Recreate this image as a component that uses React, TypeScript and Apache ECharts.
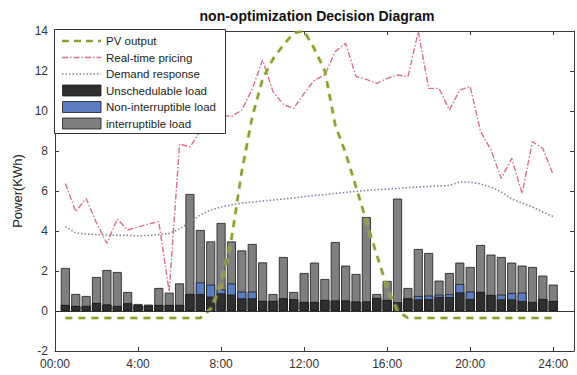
import React, { useEffect, useRef } from 'react';
import * as echarts from 'echarts';

// Half-hour time slots (hours)
const timeSlots = [
  0.5, 1, 1.5, 2, 2.5, 3, 3.5, 4, 4.5, 5, 5.5, 6,
  6.5, 7, 7.5, 8, 8.5, 9, 9.5, 10, 10.5, 11, 11.5, 12,
  12.5, 13, 13.5, 14, 14.5, 15, 15.5, 16, 16.5, 17, 17.5, 18,
  18.5, 19, 19.5, 20, 20.5, 21, 21.5, 22, 22.5, 23, 23.5, 24,
];

const unschedulableLoad = [
  0.3, 0.25, 0.25, 0.4, 0.32, 0.25, 0.38, 0.28, 0.26, 0.3, 0.3, 0.3,
  0.85, 0.85, 0.72, 0.88, 0.82, 0.63, 0.63, 0.5, 0.5, 0.63, 0.58, 0.45,
  0.45, 0.55, 0.52, 0.52, 0.47, 0.47, 0.65, 0.55, 0.43, 0.63, 0.58, 0.6,
  0.7, 0.7, 0.93, 0.6, 0.95, 0.8, 0.58, 0.58, 0.5, 0.45, 0.6, 0.5,
];

const nonInterruptibleLoad = [
  0, 0, 0, 0, 0, 0, 0, 0, 0, 0, 0, 0,
  0, 0.58, 0.6, 0.2, 0.56, 0.34, 0.34, 0, 0, 0, 0, 0,
  0, 0, 0, 0, 0, 0, 0, 0, 0, 0, 0.17, 0.17,
  0.12, 0.14, 0.42, 0.37, 0, 0, 0.24, 0.32, 0.42, 0, 0, 0,
];

const interruptibleLoad = [
  1.85, 0.6, 0.5, 1.3, 1.73, 1.7, 0.57, 0.07, 0.06, 0.85, 0.62, 1.08,
  5.0, 2.62, 2.16, 3.32, 2.1, 2.06, 2.38, 1.93, 0.35, 2.07, 0.37, 1.45,
  1.97, 1.05, 2.93, 1.75, 1.38, 4.23, 0.2, 0.95, 5.19, 0.52, 2.35, 2.13,
  0.7, 1.06, 1.07, 1.23, 2.35, 2.02, 1.88, 1.52, 1.35, 1.75, 1.17, 0.82,
];

const pvOutput = [
  -0.35, -0.35, -0.35, -0.35, -0.35, -0.35, -0.35, -0.35, -0.35, -0.35, -0.35, -0.35,
  -0.35, -0.35, 0.1, 1.3, 3.6, 7.0, 9.7, 11.6, 12.6, 13.3, 13.9, 14.0,
  13.1, 12.0, 9.3, 7.9, 6.2, 4.5, 2.8, 1.2, 0.0, -0.35, -0.35, -0.35,
  -0.35, -0.35, -0.35, -0.35, -0.35, -0.35, -0.35, -0.35, -0.35, -0.35, -0.35, -0.35,
];

const realTimePricing = [
  6.38, 4.97, 5.63, 4.4, 3.38, 4.6, 4.05, 4.2, 4.35, 4.47, 0.97, 8.35,
  8.2, 9.0, 9.6, 9.8, 9.72, 10.05, 11.1, 12.55, 10.97, 10.33, 10.13, 10.88,
  11.55, 11.8, 12.97, 13.38, 11.72, 11.58, 11.38, 11.63, 11.8, 11.72, 13.97, 11.13,
  11.13, 10.05, 11.05, 11.22, 8.97, 8.05, 6.63, 7.63, 5.88, 8.47, 8.13, 6.8,
];

const demandResponse = [
  4.22, 3.9, 3.85, 3.82, 3.8, 3.78, 3.78, 3.76, 3.78, 3.82, 3.88, 4.1,
  4.45, 4.8, 5.05, 5.2, 5.3, 5.4, 5.45, 5.5, 5.55, 5.6, 5.65, 5.72,
  5.78, 5.82, 5.88, 5.93, 5.98, 6.03, 6.07, 6.1, 6.13, 6.17, 6.2, 6.23,
  6.25, 6.28, 6.45, 6.45, 6.35, 6.2, 5.95, 5.6, 5.4, 5.2, 4.95, 4.72,
];

const xTicks = [0, 4, 8, 12, 16, 20, 24];
const xTickLabels = ['00:00', '4:00', '8:00', '12:00', '16:00', '20:00', '24:00'];

const seriesNames = [
  'PV output',
  'Real-time pricing',
  'Demand response',
  'Unschedulable load',
  'Non-interruptible load',
  'interruptible load',
];

const FONT = 'Arial, "Liberation Sans", Helvetica, sans-serif';

const COLORS = {
  pv: '#8e9c3c',
  price: '#d6708c',
  dr: '#7b87a2',
  unsched: '#2f2f2f',
  nonint: '#5b7cc0',
  inter: '#7f7f7f',
};

export default function App() {
  const ref = useRef<HTMLDivElement>(null);

  useEffect(() => {
    if (!ref.current) return;
    const chart = echarts.init(ref.current, null, { renderer: 'svg' });
    const pair = (arr: number[]) => timeSlots.map((t, i) => [t, arr[i]]);
    // cumulative tops for the stacked look (drawn overlapping, tallest first)
    const lowTop = unschedulableLoad;
    const midTop = unschedulableLoad.map((u, i) => u + nonInterruptibleLoad[i]);
    const fullTop = midTop.map((m, i) => m + interruptibleLoad[i]);

    const frameColor = '#3a3a3a';
    const barBorder = { borderColor: '#1a1a1a', borderWidth: 0.8 };

    // legend drawn as graphic elements (MATLAB style)
    const rowY = [41, 57.5, 74, 90.5, 107, 123.5];
    const lineStyles = [
      { stroke: COLORS.pv, lineWidth: 2.6, lineDash: [7, 5] },
      { stroke: COLORS.price, lineWidth: 1.4, lineDash: [6, 2, 1.5, 2] },
      { stroke: COLORS.dr, lineWidth: 1.6, lineDash: [1.5, 2] },
    ];
    const rectFills = [COLORS.unsched, COLORS.nonint, COLORS.inter];
    const legendEls: any[] = [
      {
        type: 'rect',
        z: 100,
        shape: { x: 54.5, y: 29.5, width: 171, height: 104 },
        style: { fill: '#ffffff', stroke: '#333', lineWidth: 1 },
      },
    ];
    seriesNames.forEach((name, i) => {
      const cy = rowY[i];
      if (i < 3) {
        legendEls.push({
          type: 'line',
          z: 101,
          shape: { x1: 62, y1: cy, x2: 101, y2: cy },
          style: { ...lineStyles[i], fill: null },
        });
      } else {
        legendEls.push({
          type: 'rect',
          z: 101,
          shape: { x: 62.5, y: cy - 5.5, width: 38.5, height: 11 },
          style: { fill: rectFills[i - 3], stroke: '#1a1a1a', lineWidth: 0.8 },
        });
      }
      legendEls.push({
        type: 'text',
        z: 101,
        x: 106,
        y: cy,
        style: {
          text: name,
          font: `11.5px ${FONT}`,
          fill: '#222',
          textAlign: 'left',
          align: 'left',
          textVerticalAlign: 'middle',
          verticalAlign: 'middle',
        },
      });
    });

    chart.setOption({
      animation: false,
      backgroundColor: '#ffffff',
      textStyle: { fontFamily: FONT },
      graphic: [
        {
          type: 'text',
          x: 317,
          y: 9,
          z: 100,
          style: {
            text: 'non-optimization Decision Diagram',
            font: `bold 14px ${FONT}`,
            fill: '#111',
            textAlign: 'center',
            align: 'center',
            textVerticalAlign: 'top',
            verticalAlign: 'top',
          },
        },
        ...legendEls,
      ],
      grid: { left: 55, right: -3, top: 31, bottom: 24, containLabel: false },
      xAxis: [
        {
          type: 'value',
          min: 0,
          max: 25,
          interval: 4,
          position: 'bottom',
          axisLine: { show: true, onZero: false, lineStyle: { color: frameColor, width: 1 } },
          axisTick: { show: true, inside: true, length: 4, lineStyle: { color: frameColor } },
          axisLabel: {
            color: '#333',
            fontSize: 12,
            margin: 7,
            formatter: (v: number) => {
              const i = xTicks.indexOf(v);
              return i >= 0 ? xTickLabels[i] : '';
            },
          },
          splitLine: { show: false },
        },
        {
          type: 'value',
          min: 0,
          max: 25,
          interval: 4,
          position: 'top',
          axisLine: { show: true, onZero: false, lineStyle: { color: frameColor, width: 1 } },
          axisTick: { show: true, inside: true, length: 4, lineStyle: { color: frameColor } },
          axisLabel: { show: false },
          splitLine: { show: false },
        },
      ],
      yAxis: [
        {
          type: 'value',
          min: -2,
          max: 14,
          interval: 2,
          position: 'left',
          name: 'Power(KWh)',
          nameLocation: 'middle',
          nameGap: 25,
          nameTextStyle: { fontSize: 13, color: '#222', fontFamily: FONT },
          axisLine: { show: true, onZero: false, lineStyle: { color: frameColor, width: 1 } },
          axisTick: { show: true, inside: true, length: 4, lineStyle: { color: frameColor } },
          axisLabel: { color: '#333', fontSize: 12, margin: 7 },
          splitLine: { show: false },
        },
        {
          type: 'value',
          min: -2,
          max: 14,
          interval: 2,
          position: 'right',
          axisLine: { show: true, onZero: false, lineStyle: { color: frameColor, width: 1 } },
          axisTick: { show: true, inside: true, length: 4, lineStyle: { color: frameColor } },
          axisLabel: { show: false },
          splitLine: { show: false },
        },
      ],
      series: [
        {
          name: 'interruptible load',
          type: 'bar',
          barWidth: 9,
          barGap: '-100%',
          data: pair(fullTop),
          itemStyle: { color: COLORS.inter, ...barBorder },
          z: 2,
        },
        {
          name: 'Non-interruptible load',
          type: 'bar',
          barWidth: 9,
          barGap: '-100%',
          data: pair(midTop),
          itemStyle: { color: COLORS.nonint, ...barBorder },
          z: 2,
        },
        {
          name: 'Unschedulable load',
          type: 'bar',
          barWidth: 9,
          barGap: '-100%',
          data: pair(lowTop),
          itemStyle: { color: COLORS.unsched, ...barBorder },
          markLine: {
            silent: true,
            symbol: 'none',
            label: { show: false },
            lineStyle: { color: '#333', type: 'solid', width: 1 },
            data: [{ yAxis: 0 }],
          },
          z: 2,
        },
        {
          name: 'Demand response',
          type: 'line',
          data: pair(demandResponse),
          symbol: 'none',
          lineStyle: { color: COLORS.dr, width: 1.6, type: [1.5, 2] },
          z: 3,
        },
        {
          name: 'Real-time pricing',
          type: 'line',
          data: pair(realTimePricing),
          symbol: 'none',
          lineStyle: { color: COLORS.price, width: 1.4, type: [6, 2, 1.5, 2] },
          z: 3,
        },
        {
          name: 'PV output',
          type: 'line',
          data: pair(pvOutput),
          symbol: 'none',
          lineStyle: {
            color: COLORS.pv,
            width: 2.6,
            type: [7, 6],
            shadowColor: 'rgba(215, 222, 110, 0.8)',
            shadowBlur: 2,
          },
          z: 4,
        },
      ],
    });

    return () => chart.dispose();
  }, []);

  return (
    <div
      ref={ref}
      style={{ position: 'fixed', left: 0, top: 0, width: 577, height: 375, background: '#fff' }}
    />
  );
}
